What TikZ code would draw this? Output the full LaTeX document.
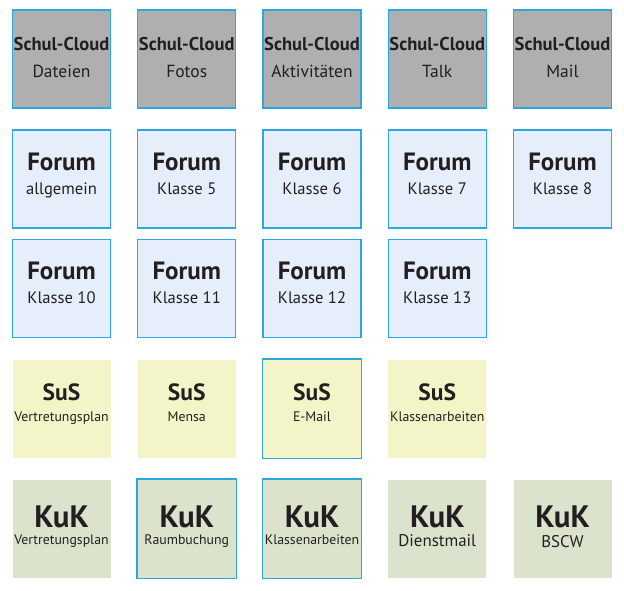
\documentclass[tikz,border=0pt]{standalone}
\usepackage{fontspec}
\setmainfont{PT Sans}
\definecolor{cloudgray}{RGB}{175,175,175}
\definecolor{forumblue}{RGB}{231,238,251}
\definecolor{susyellow}{RGB}{243,244,200}
\definecolor{kukgreen}{RGB}{220,227,205}
\definecolor{tileedge}{RGB}{42,168,224}
\definecolor{ink}{RGB}{35,31,32}

\begin{document}
\begin{tikzpicture}[x=1pt, y=-1pt,
      tile/.style = {shape=rectangle, minimum size=98pt, inner sep=0pt,
        line width=1.3pt},
      edged/.style = {draw=tileedge},
      cloud/.style = {tile, fill=cloudgray, edged},
      forum/.style = {tile, fill=forumblue, edged},
      sus/.style = {tile, fill=susyellow},
      kuk/.style = {tile, fill=kukgreen},
      tiletitle/.style = {anchor=base, inner sep=0pt, text=ink},
      tilesub/.style = {anchor=base, inner sep=0pt, text=ink}]
  \useasboundingbox (0,0) rectangle (624,590);

  % Schul-Cloud
  \foreach \s [count=\i] in {Dateien,Fotos,Aktivitäten,Talk,Mail} {
    \pgfmathsetmacro\x{61.5+125.25*(\i-1)}
    \node[cloud] (cloud\i) at (\x,59) {};
    \node[tiletitle, font=\bfseries\fontsize{18.5}{20}\selectfont]
      (cloud\i-t) at (\x,50) {Schul-Cloud};
    \node[tilesub, font=\fontsize{17.5}{19}\selectfont]
      (cloud\i-s) at (\x,77) {\s};
  }

  % Foren
  \foreach \s/\c/\y in {allgemein/1/179, Klasse 5/2/179, Klasse 6/3/179,
      Klasse 7/4/179, Klasse 8/5/179, Klasse 10/1/288.5, Klasse 11/2/288.5,
      Klasse 12/3/288.5, Klasse 13/4/288.5} {
    \pgfmathsetmacro\x{61.5+125.25*(\c-1)}
    \node[forum] (forum\c-\y) at (\x,\y) {};
    \node[tiletitle, font=\bfseries\fontsize{25}{27}\selectfont]
      (forum\c-\y-t) at (\x,\y-9) {Forum};
    \node[tilesub, font=\fontsize{16.6}{18}\selectfont]
      (forum\c-\y-s) at (\x,\y+15) {\s};
  }

  % SuS
  \foreach \s/\c in {Vertretungsplan/1, Mensa/2, E-Mail/3, Klassenarbeiten/4} {
    \pgfmathsetmacro\x{61.5+125.25*(\c-1)}
    \node[sus] (sus\c) at (\x,408.5) {};
    \node[tiletitle, font=\bfseries\fontsize{23.5}{25}\selectfont]
      (sus\c-t) at (\x,400.5) {SuS};
    \node[tilesub, font=\fontsize{13.8}{15}\selectfont]
      (sus\c-s) at (\x,421.5) {\s};
  }

  % KuK
  \foreach \s/\c/\fs/\b in {Vertretungsplan/1/13.8/544,
      Raumbuchung/2/13.8/544, Klassenarbeiten/3/13.8/544,
      Dienstmail/4/16.9/546.5, BSCW/5/16.9/547} {
    \pgfmathsetmacro\x{61.5+125.25*(\c-1)}
    \node[kuk] (kuk\c) at (\x,528.5) {};
    \node[tiletitle, font=\bfseries\fontsize{31}{33}\selectfont]
      (kuk\c-t) at (\x,527) {KuK};
    \node[tilesub, font=\fontsize{\fs}{\fs}\selectfont]
      (kuk\c-s) at (\x,\b) {\s};
  }

  % blaue Rahmen
  \foreach \n in {sus3,kuk2,kuk3}
    \draw[edged, line width=1.3pt] (\n.north west) rectangle (\n.south east);
\end{tikzpicture}
\end{document}
